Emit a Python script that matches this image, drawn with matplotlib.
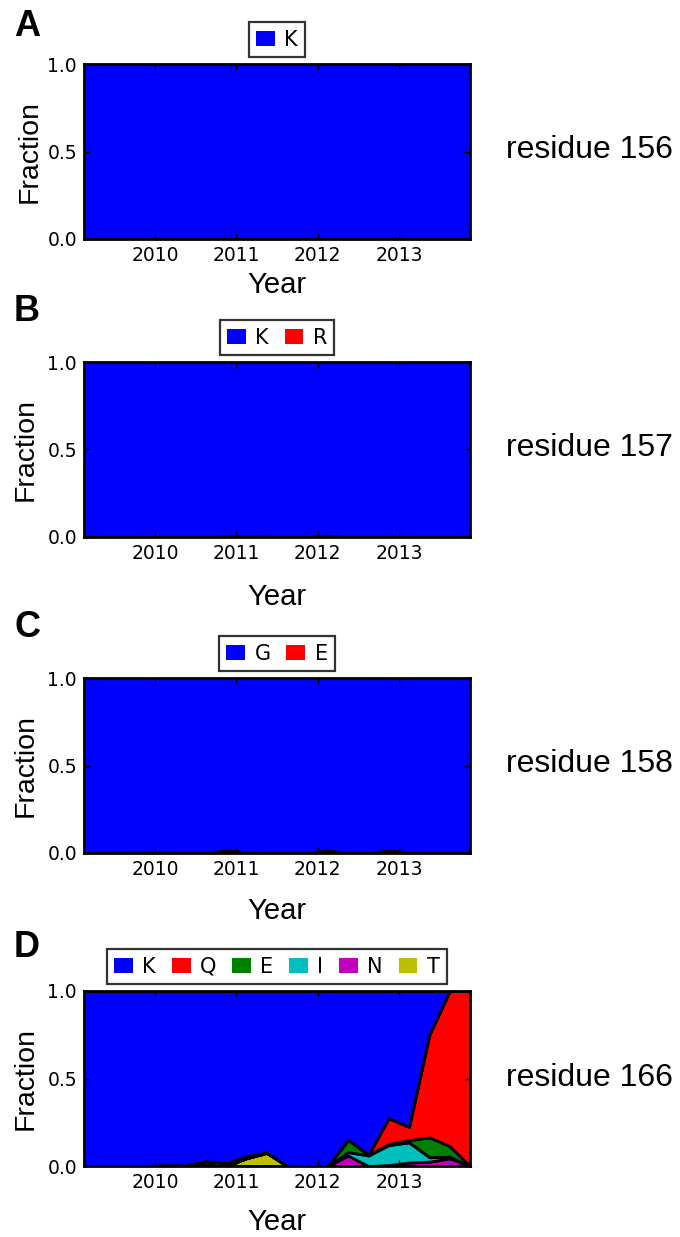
import matplotlib
matplotlib.use("Agg")
import matplotlib.pyplot as plt
from matplotlib.patches import Patch

# Quarter mid-points sampled for each residue
years = [2009.125, 2009.375, 2009.625, 2009.875, 2010.125, 2010.375, 2010.625, 2010.875,
         2011.125, 2011.375, 2011.625, 2011.875, 2012.125, 2012.375, 2012.625, 2012.875,
         2013.125, 2013.375, 2013.625, 2013.875]

# residue 156
r156_labels = ["K"]
r156_K = [1.0] * 20

# residue 157
r157_labels = ["K", "R"]
r157_R = [0, 0, 0, 0, 0, 0, 0, 0.004, 0.005, 0.002, 0, 0, 0.008, 0, 0, 0, 0, 0, 0, 0]

# residue 158
r158_labels = ["G", "E"]
r158_E = [0, 0, 0.003, 0.006, 0.004, 0, 0, 0.015, 0.004, 0, 0, 0, 0.015, 0, 0, 0.015, 0.004, 0, 0, 0]

# residue 166
r166_labels = ["K", "Q", "E", "I", "N", "T"]
r166_Q = [0, 0, 0, 0, 0, 0, 0, 0, 0, 0, 0, 0, 0, 0, 0, 0.147, 0.075, 0.586, 0.886, 1.0]
r166_E = [0, 0, 0, 0, 0.005, 0.004, 0.02, 0.017, 0.012, 0.003, 0, 0, 0, 0.07, 0.005, 0.006, 0.013, 0.114, 0.06, 0]
r166_I = [0, 0, 0, 0, 0, 0, 0, 0, 0, 0, 0, 0, 0, 0.02, 0.06, 0.115, 0.115, 0.025, 0.01, 0]
r166_N = [0, 0, 0, 0, 0, 0, 0, 0, 0, 0, 0, 0, 0, 0.06, 0, 0.005, 0.02, 0.025, 0.044, 0]
r166_T = [0, 0, 0, 0, 0, 0, 0.008, 0, 0.045, 0.075, 0, 0, 0, 0, 0, 0, 0, 0, 0, 0]

palette = ["#0000ff", "#ff0000", "#008000", "#00bfbf", "#bf00bf", "#bfbf00"]


def remainder(*parts):
    return [1.0 - sum(v) for v in zip(*parts)]


panels = [
    ("A", "residue 156", r156_labels, [r156_K]),
    ("B", "residue 157", r157_labels, [remainder(r157_R), r157_R]),
    ("C", "residue 158", r158_labels, [remainder(r158_E), r158_E]),
    ("D", "residue 166", r166_labels,
     [remainder(r166_Q, r166_E, r166_I, r166_N, r166_T), r166_Q, r166_E, r166_I, r166_N, r166_T]),
]

W, H = 680, 1237
fig = plt.figure(figsize=(W / 100, H / 100), dpi=100)

axes_bottom_px = [239, 537, 853, 1166]
xlabel_offset_px = [46, 60, 58, 56]
ylabel_x_px = [30, 26, 26, 26]
letter_base_px = [36, 321, 637, 957]
ax_left, ax_w, ax_h = 84, 386, 175

label_font = "Liberation Sans"
tick_font = "DejaVu Sans"

for (letter, resname, labels, series), bpx, xoff, ylx, lby in zip(
        panels, axes_bottom_px, xlabel_offset_px, ylabel_x_px, letter_base_px):
    ax = fig.add_axes([ax_left / W, 1 - bpx / H, ax_w / W, ax_h / H])
    cols = palette[:len(labels)]
    # stack with the first category on top
    ax.stackplot(years, *series[::-1], colors=cols[::-1],
                 edgecolor="black", linewidth=2.0)
    ax.set_xlim(years[0], years[-1])
    ax.set_ylim(0, 1)
    ax.set_xticks([2010, 2011, 2012, 2013])
    ax.set_xticklabels(["2010", "2011", "2012", "2013"])
    ax.set_yticks([0.0, 0.5, 1.0])
    ax.set_yticklabels(["0.0", "0.5", "1.0"])
    ax.tick_params(direction="in", top=True, right=True, length=4.5, width=1.0,
                   labelsize=13.5, pad=5, colors="black")
    for t in ax.get_xticklabels() + ax.get_yticklabels():
        t.set_fontfamily(tick_font)
    for s in ax.spines.values():
        s.set_linewidth(2.0)
        s.set_zorder(5)

    ax.set_xlabel("Year", fontsize=21, family=label_font, va="center")
    ax.xaxis.set_label_coords(0.5, -xoff / ax_h)
    ax.set_ylabel("Fraction", fontsize=20.5, family=label_font, va="center")
    ax.yaxis.set_label_coords(-(ax_left - ylx) / ax_w, 0.5)

    handles = [Patch(facecolor=c, edgecolor="none") for c in cols]
    leg = ax.legend(handles, labels, loc="lower center", bbox_to_anchor=(0.5, 1.0 + 7 / ax_h),
                    ncol=len(labels), borderaxespad=0, frameon=True, fancybox=False,
                    prop={"family": tick_font, "size": 15},
                    handlelength=0.9, handleheight=0.8, handletextpad=0.45,
                    columnspacing=0.76, borderpad=0.35)
    leg.get_frame().set_edgecolor("black")
    leg.get_frame().set_linewidth(1.6)

    fig.text(506 / W, 1 - (bpx - ax_h / 2 + 7) / H, resname, fontsize=23, family=label_font,
             ha="left", va="baseline")
    fig.text(27 / W, 1 - lby / H, letter, fontsize=26, family=label_font, weight="bold",
             ha="center", va="baseline")

fig.savefig("out.png", dpi=100)
